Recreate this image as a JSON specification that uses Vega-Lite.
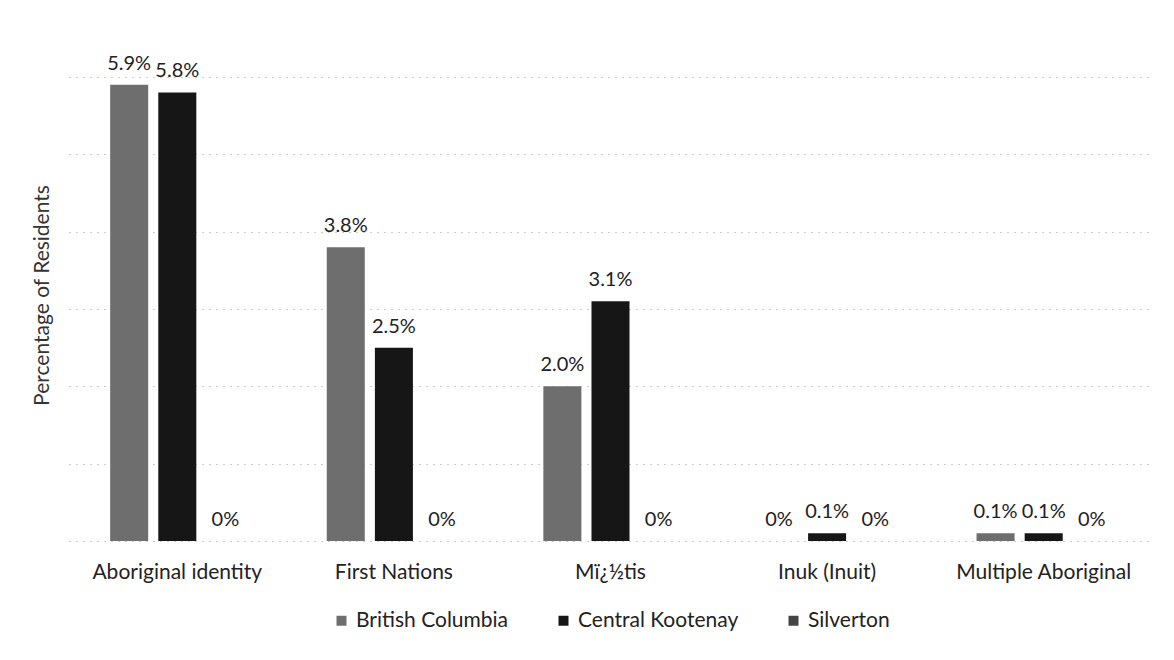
{
  "$schema": "https://vega.github.io/schema/vega-lite/v6.json",
  "width": 1083,
  "height": 464,
  "autosize": {"type": "none"},
  "padding": {"left": 69, "top": 77, "right": 22, "bottom": 119},
  "background": "white",
  "config": {"font": "Lato", "view": {"stroke": null}},
  "data": {
    "values": [
      {"category": "Aboriginal identity", "region": "British Columbia", "value": 5.9, "label": "5.9%"},
      {"category": "Aboriginal identity", "region": "Central Kootenay", "value": 5.8, "label": "5.8%"},
      {"category": "Aboriginal identity", "region": "Silverton", "value": 0, "label": "0%"},
      {"category": "First Nations", "region": "British Columbia", "value": 3.8, "label": "3.8%"},
      {"category": "First Nations", "region": "Central Kootenay", "value": 2.5, "label": "2.5%"},
      {"category": "First Nations", "region": "Silverton", "value": 0, "label": "0%"},
      {"category": "Mï¿½tis", "region": "British Columbia", "value": 2.0, "label": "2.0%"},
      {"category": "Mï¿½tis", "region": "Central Kootenay", "value": 3.1, "label": "3.1%"},
      {"category": "Mï¿½tis", "region": "Silverton", "value": 0, "label": "0%"},
      {"category": "Inuk (Inuit)", "region": "British Columbia", "value": 0, "label": "0%"},
      {"category": "Inuk (Inuit)", "region": "Central Kootenay", "value": 0.1, "label": "0.1%"},
      {"category": "Inuk (Inuit)", "region": "Silverton", "value": 0, "label": "0%"},
      {"category": "Multiple Aboriginal", "region": "British Columbia", "value": 0.1, "label": "0.1%"},
      {"category": "Multiple Aboriginal", "region": "Central Kootenay", "value": 0.1, "label": "0.1%"},
      {"category": "Multiple Aboriginal", "region": "Silverton", "value": 0, "label": "0%"}
    ]
  },
  "encoding": {
    "x": {
      "field": "category", "type": "nominal", "sort": null,
      "scale": {"paddingInner": 0.38, "paddingOuter": 0.19},
      "axis": {"title": null, "labelAngle": 0, "labelFontSize": 21, "labelColor": "#222", "labelPadding": 20, "labelLimit": 300, "ticks": false, "domain": false, "grid": false}
    },
    "xOffset": {"field": "region", "type": "nominal", "sort": ["British Columbia", "Central Kootenay", "Silverton"], "scale": {"paddingInner": 0.21, "paddingOuter": 0}},
    "y": {
      "field": "value", "type": "quantitative",
      "scale": {"domain": [0, 6], "nice": false},
      "axis": {"title": "Percentage of Residents", "titleFontSize": 21, "titleFontWeight": "normal", "titleColor": "#333", "titleX": -27, "titleY": 218, "titleAlign": "center", "titleBaseline": "middle", "labels": false, "ticks": false, "domain": false, "values": [0, 1, 2, 3, 4, 5, 6], "grid": true, "gridColor": "#999999", "gridDash": [1, 6], "gridWidth": 1}
    }
  },
  "layer": [
    {
      "mark": {"type": "bar"},
      "encoding": {
        "color": {
          "field": "region", "type": "nominal",
          "sort": ["British Columbia", "Central Kootenay", "Silverton"],
          "scale": {"domain": ["British Columbia", "Central Kootenay", "Silverton"], "range": ["#6e6e6e", "#161616", "#444444"]},
          "legend": {"title": null, "orient": "none", "legendX": 262, "legendY": 533, "direction": "horizontal", "symbolType": "square", "symbolSize": 100, "labelFontSize": 21, "labelColor": "#222", "labelLimit": 300, "columnPadding": 44, "labelOffset": 4}
        }
      }
    },
    {
      "mark": {"type": "text", "baseline": "alphabetic", "dy": -15, "fontSize": 20, "color": "#222"},
      "encoding": {"text": {"field": "label"}}
    }
  ]
}
